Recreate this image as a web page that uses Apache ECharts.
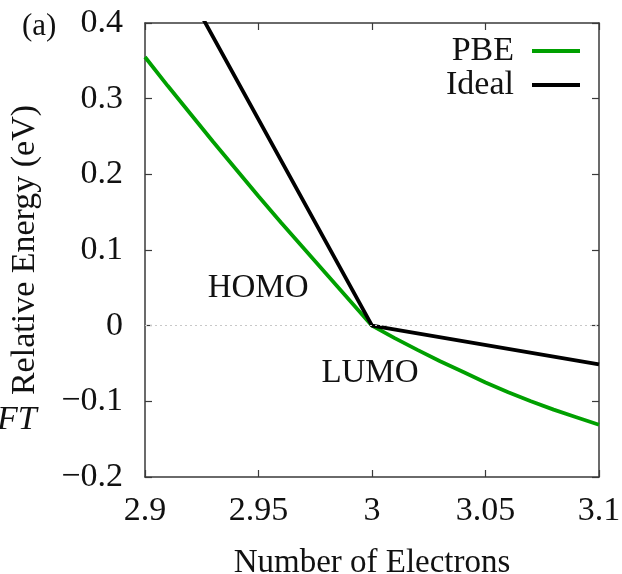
<!DOCTYPE html>
<html>
<head>
<meta charset="utf-8">
<script src="https://cdn.jsdelivr.net/npm/echarts@6/dist/echarts.min.js"></script>
<style>
html,body{margin:0;padding:0;background:#fff;}
#c{width:622px;height:574px;}
</style>
</head>
<body>
<div id="c"></div>
<script>
// ---- data ----
const pbeN = [2.90, 2.91, 2.92, 2.93, 2.94, 2.95, 2.96, 2.97, 2.98, 2.99, 3.00,
              3.01, 3.02, 3.03, 3.04, 3.05, 3.06, 3.07, 3.08, 3.09, 3.10];
const pbeE = [0.355, 0.317, 0.280, 0.243, 0.207, 0.171, 0.136, 0.102, 0.068, 0.034, 0.000,
              -0.0165, -0.032, -0.047, -0.061, -0.075, -0.088, -0.100, -0.111, -0.121, -0.131];
const idealN = [2.90, 3.00, 3.10];
const idealE = [0.545, 0.000, -0.051];
const seriesNames = ['PBE', 'Ideal'];
const annotations = [
  { text: 'HOMO', n: 2.9498, e: 0.0498 },
  { text: 'LUMO', n: 2.9991, e: -0.0625 }
];
const xName = 'Number of Electrons';
const yName = 'Relative Energy (eV)';
const panelLabel = '(a)';
const sideLabel = 'FT';

const FONT = '"Liberation Serif", "DejaVu Serif", serif';
const AX = '#3a3a3a';
const TXT = '#111';
const zip = (a, b) => a.map((v, i) => [v, b[i]]);

const chart = echarts.init(document.getElementById('c'), null, { renderer: 'canvas' });

const xBase = {
  type: 'value', min: 2.9, max: 3.1, interval: 0.05,
  axisLine: { show: true, onZero: false, lineStyle: { color: AX, width: 1.5 } },
  axisTick: { show: true, inside: true, length: 7, lineStyle: { color: AX, width: 1.2 } },
  splitLine: { show: false }
};
const yBase = {
  type: 'value', min: -0.2, max: 0.4, interval: 0.1,
  axisLine: { show: true, onZero: false, lineStyle: { color: AX, width: 1.5 } },
  axisTick: { show: true, inside: true, length: 7, lineStyle: { color: AX, width: 1.2 } },
  splitLine: { show: false }
};

const option = {
  animation: false,
  backgroundColor: '#fff',
  grid: { left: 145, right: 23, top: 23, bottom: 97, containLabel: false, outerBoundsMode: 'none' },
  legend: {
    orient: 'vertical', align: 'right', right: 37, top: 29,
    itemWidth: 48, itemHeight: 4, itemGap: 0,
    data: [{ name: seriesNames[0], icon: 'rect' }, { name: seriesNames[1], icon: 'rect' }],
    textStyle: { fontFamily: FONT, fontSize: 34, color: TXT, lineHeight: 33, padding: [0, 13, 0, 0] },
    selectedMode: false
  },
  xAxis: [
    Object.assign({}, xBase, {
      position: 'bottom', name: xName, nameLocation: 'middle', nameGap: 70,
      nameTextStyle: { fontFamily: FONT, fontSize: 33, color: TXT },
      axisLabel: { show: true, margin: 17, fontFamily: FONT, fontSize: 34, color: TXT,
        formatter: v => String(Math.round(v * 100) / 100) }
    }),
    Object.assign({}, xBase, { position: 'top', axisLabel: { show: false } })
  ],
  yAxis: [
    Object.assign({}, yBase, {
      position: 'left', name: yName, nameLocation: 'middle', nameGap: 103,
      nameTextStyle: { fontFamily: FONT, fontSize: 34, color: TXT },
      axisLabel: { show: true, margin: 22, fontFamily: FONT, fontSize: 34, color: TXT,
        formatter: v => { const r = Math.round(v * 10) / 10; return r < 0 ? '\u2212' + String(-r) : String(r); } }
    }),
    Object.assign({}, yBase, { position: 'right', axisLabel: { show: false } })
  ],
  series: [
    {
      name: seriesNames[0], type: 'line', xAxisIndex: 0, yAxisIndex: 0,
      data: zip(pbeN, pbeE), symbol: 'none', smooth: false, clip: true,
      color: '#00a000', lineStyle: { color: '#00a000', width: 3.8 },
      markLine: {
        silent: true, symbol: 'none', label: { show: false },
        lineStyle: { type: [2, 3], color: '#c8c8c8', width: 1 },
        data: [{ yAxis: 0 }]
      },
      z: 2
    },
    {
      name: seriesNames[1], type: 'line', xAxisIndex: 0, yAxisIndex: 0,
      data: zip(idealN, idealE), symbol: 'none', clip: true,
      color: '#000', lineStyle: { color: '#000', width: 3.8 },
      z: 3
    }
  ]
};
chart.setOption(option);

const gfx = annotations.map(a => {
  const p = chart.convertToPixel({ xAxisIndex: 0, yAxisIndex: 0 }, [a.n, a.e]);
  return { type: 'text', x: p[0], y: p[1], style: { text: a.text, fontFamily: FONT, fontSize: 33, fill: TXT, align: 'center', verticalAlign: 'middle' } };
});
gfx.push({ type: 'text', x: 22, y: 27, style: { text: panelLabel, fontFamily: FONT, fontSize: 31, fill: TXT, align: 'left', verticalAlign: 'middle' } });
gfx.push({ type: 'text', x: -3, y: 420, style: { text: sideLabel, fontFamily: FONT, fontSize: 34, fontStyle: 'italic', fill: TXT, align: 'left', verticalAlign: 'middle' } });
chart.setOption({ graphic: gfx });
</script>
</body>
</html>
